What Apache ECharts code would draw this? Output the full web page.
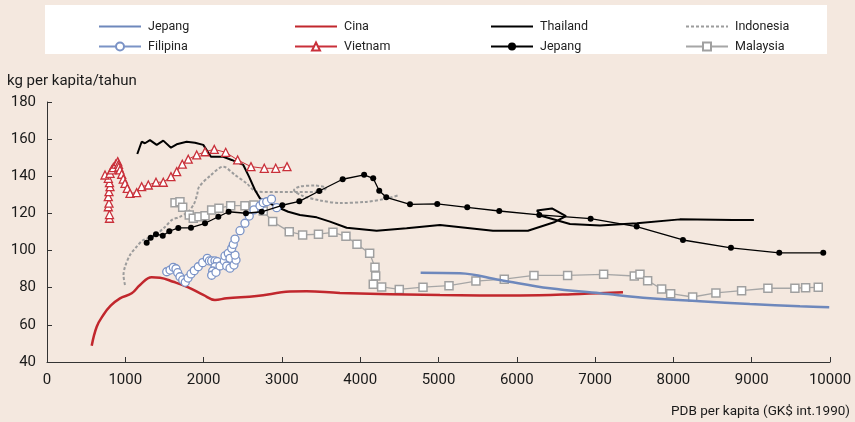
<!DOCTYPE html>
<html>
<head>
<meta charset="utf-8">
<script src="https://cdn.jsdelivr.net/npm/echarts@6/dist/echarts.min.js"></script>
<style>
  html, body { margin: 0; padding: 0; background: #F4E8DF; }
  #chart { width: 855px; height: 422px; }
</style>
</head>
<body>
<div id="chart"></div>
<script>
// Konsumsi (kg per kapita/tahun) terhadap PDB per kapita (GK$ int.1990)
const xTicks = [0, 1000, 2000, 3000, 4000, 5000, 6000, 7000, 8000, 9000, 10000];
const yTicks = [40, 60, 80, 100, 120, 140, 160, 180];

const jepang = [
  [4772, 88.1], [5274, 87.8], [5785, 84.2], [6423, 79.7], [7062, 77.0],
  [7700, 74.3], [8339, 72.7], [8977, 71.2], [9616, 70.0], [9990, 69.5]
];

const cina = [
  [571, 48.8], [635, 59.0], [719, 65.3], [813, 70.3], [932, 74.3], [1082, 77.0],
  [1188, 81.5], [1337, 85.6], [1443, 85.4], [1613, 83.2], [1804, 80.2], [1996, 76.1],
  [2145, 73.4], [2295, 74.3], [2678, 75.5], [3103, 77.9], [3316, 78.1], [3742, 77.2],
  [5019, 76.1], [6040, 75.8], [6806, 76.6], [7356, 77.5]
];

const thailand = [
  [1153, 152.0], [1209, 158.6], [1251, 157.8], [1315, 159.5], [1401, 156.9], [1485, 159.2],
  [1583, 155.4], [1656, 157.2], [1784, 158.6], [1890, 158.1], [1996, 156.9], [2094, 150.5],
  [2251, 150.5], [2359, 148.8], [2507, 146.1], [2580, 139.8], [2656, 132.6], [2720, 128.1],
  [2933, 123.6], [3081, 120.9], [3231, 119.2], [3444, 117.9], [3614, 115.6], [3827, 112.3],
  [4210, 110.7], [4593, 112.0], [5019, 113.8], [5695, 110.7], [6142, 110.7], [6487, 115.4],
  [6628, 118.6], [6449, 122.7], [6257, 121.6], [6321, 118.6], [6679, 114.3], [7062, 113.5],
  [7534, 114.7], [8083, 116.8], [8760, 116.5], [9028, 116.5]
];

const indonesia = [
  [996, 81.5], [977, 86.8], [996, 91.3], [1060, 97.6], [1145, 102.1], [1230, 105.7],
  [1357, 107.5], [1507, 112.7], [1596, 116.5], [1698, 118.2], [1801, 120.8], [1877, 125.1],
  [1916, 129.9], [1941, 134.2], [2082, 140.2], [2251, 145.2], [2401, 140.7], [2550, 136.2],
  [2678, 131.7], [3103, 131.5], [3512, 131.8], [3563, 133.7], [3422, 135.0], [3231, 134.5],
  [3154, 132.6], [3269, 129.4], [3486, 127.0], [3742, 125.6], [4061, 126.2], [4316, 127.8],
  [4482, 129.7]
];

const malaysia = [
  [1635, 125.8], [1698, 126.3], [1733, 123.3], [1817, 119.2], [1868, 117.4], [1941, 118.2],
  [2018, 118.8], [2103, 121.9], [2196, 122.8], [2346, 124.2], [2528, 124.2], [2643, 124.5],
  [2762, 121.3], [2882, 115.6], [3094, 110.2], [3265, 108.4], [3467, 108.8], [3652, 109.8],
  [3818, 107.7], [3959, 103.4], [4121, 98.5], [4189, 91.0], [4198, 86.3], [4167, 81.8],
  [4274, 80.4], [4499, 79.1], [4802, 80.3], [5134, 81.1], [5478, 83.6], [5840, 84.6],
  [6219, 86.6], [6649, 86.6], [7109, 87.2], [7500, 86.3], [7573, 87.2], [7671, 83.8],
  [7850, 79.3], [7965, 76.8], [8246, 75.0], [8543, 77.2], [8871, 78.4], [9207, 79.7],
  [9552, 79.7], [9689, 80.0], [9850, 80.2]
];

const filipina = [
  [1529, 88.6], [1571, 89.5], [1613, 91.0], [1647, 90.2], [1669, 88.1], [1698, 85.9],
  [1733, 84.2], [1766, 82.9], [1801, 85.2], [1839, 87.4], [1881, 89.2], [1932, 91.3],
  [1988, 93.5], [2047, 95.8], [2073, 94.4], [2103, 94.4], [2145, 94.5], [2175, 94.0],
  [2145, 91.3], [2116, 89.0], [2103, 86.7], [2158, 88.3], [2209, 91.7], [2264, 94.4],
  [2273, 97.1], [2315, 98.5], [2337, 95.8], [2295, 91.7], [2337, 90.5], [2388, 92.2],
  [2414, 94.9], [2401, 97.6], [2359, 101.2], [2379, 103.3], [2401, 106.2], [2465, 110.7],
  [2528, 114.7], [2583, 118.6], [2643, 121.9], [2720, 124.1], [2762, 125.8], [2806, 126.3],
  [2867, 127.7], [2933, 123.1]
];

const vietnam = [
  [798, 117.4], [798, 119.4], [783, 123.6], [792, 125.5], [783, 129.0], [792, 131.7],
  [805, 134.4], [798, 136.6], [783, 138.9], [741, 140.7], [805, 141.6], [826, 143.4],
  [847, 144.7], [877, 146.5], [903, 147.9], [913, 146.4], [917, 145.0], [932, 143.4],
  [954, 141.1], [974, 138.5], [996, 136.2], [1025, 133.5], [1060, 130.8], [1145, 131.2],
  [1209, 134.4], [1294, 135.3], [1392, 136.8], [1485, 136.8], [1583, 139.8], [1656, 142.5],
  [1728, 146.5], [1804, 149.2], [1912, 151.5], [2018, 153.2], [2136, 154.5], [2282, 152.9],
  [2435, 148.8], [2605, 145.2], [2775, 144.3], [2921, 144.3], [3065, 145.2]
];

const jepangTitik = [
  [1273, 104.2], [1324, 106.9], [1392, 108.8], [1478, 108.0], [1562, 110.4], [1677, 112.2],
  [1839, 112.3], [2018, 114.7], [2188, 118.2], [2320, 120.9], [2541, 120.1], [2742, 120.9],
  [3005, 124.4], [3222, 126.5], [3477, 132.1], [3776, 138.4], [4050, 140.8], [4166, 138.9],
  [4243, 132.2], [4333, 128.7], [4636, 124.9], [4984, 125.1], [5367, 123.3], [5776, 121.3],
  [6287, 119.2], [6943, 117.2], [7531, 112.9], [8122, 105.7], [8735, 101.5], [9352, 98.8],
  [9914, 98.8]
];

const FONT = 'Roboto, "Noto Sans", sans-serif';
const SECOND_JP = 'Jepang-2';

// One legend block per entry, laid out as a 4 x 2 grid inside the white box
const legendCols = [93, 289, 485, 680];
const legendRows = [15, 35];
const legendEntries = [
  ['Jepang', 0, 0, false], ['Cina', 1, 0, false], ['Thailand', 2, 0, false], ['Indonesia', 3, 0, false],
  ['Filipina', 0, 1, true], ['Vietnam', 1, 1, true], [SECOND_JP, 2, 1, true], ['Malaysia', 3, 1, true]
];
const legends = legendEntries.map(([name, c, r, marked]) => {
  const lg = {
    data: [name],
    left: legendCols[c],
    top: legendRows[r],
    itemWidth: 42,
    itemHeight: 10,
    selectedMode: false,
    formatter: n => (n === SECOND_JP ? 'Jepang' : n),
    textStyle: { fontFamily: FONT, fontSize: 12.5, color: '#222', padding: [0, 0, 0, 2] }
  };
  // line-only entries: hide the marker, keep the stroke
  if (!marked) lg.itemStyle = { opacity: 0 };
  return lg;
});

const plainLabel = v => String(v);

const chart = echarts.init(document.getElementById('chart'), null, { renderer: 'canvas' });
chart.setOption({
  backgroundColor: '#F4E8DF',
  animation: false,
  legend: legends,
  graphic: [
    { type: 'rect', z: -10, shape: { x: 45, y: 5, width: 782, height: 49 }, style: { fill: '#ffffff' } },
    { type: 'text', left: 7, top: 74, style: { text: 'kg per kapita/tahun', font: '15px ' + FONT, fill: '#1a1a1a' } },
    { type: 'text', right: 5, top: 405, style: { text: 'PDB per kapita (GK$ int.1990)', font: '13.5px ' + FONT, fill: '#1a1a1a' } }
  ],
  grid: { left: 47, right: 25, top: 102, bottom: 60, outerBoundsMode: 'none' },
  xAxis: {
    type: 'value', min: xTicks[0], max: xTicks[xTicks.length - 1], interval: 1000,
    splitLine: { show: false },
    axisLine: { lineStyle: { color: '#333', width: 1 } },
    axisTick: { inside: true, length: 5, lineStyle: { color: '#333' } },
    axisLabel: { margin: 11, fontFamily: FONT, fontSize: 15, color: '#1a1a1a', formatter: plainLabel }
  },
  yAxis: {
    type: 'value', min: yTicks[0], max: yTicks[yTicks.length - 1], interval: 20,
    splitLine: { show: false },
    axisLine: { show: true, lineStyle: { color: '#333', width: 1 } },
    axisTick: { show: true, inside: true, length: 5, lineStyle: { color: '#333' } },
    axisLabel: { margin: 11, fontFamily: FONT, fontSize: 15, color: '#1a1a1a', formatter: plainLabel }
  },
  series: [
    {
      name: 'Indonesia', type: 'line', data: indonesia, symbol: 'none', smooth: 0.3, z: 2,
      itemStyle: { color: '#9C9C9C' },
      lineStyle: { color: '#9C9C9C', width: 2, type: [3, 2] }
    },
    {
      name: 'Malaysia', type: 'line', data: malaysia, symbol: 'rect', symbolSize: 8, z: 3,
      lineStyle: { color: '#A6A6A6', width: 1.3 },
      itemStyle: { color: '#ffffff', borderColor: '#A0A0A0', borderWidth: 1.5 }
    },
    {
      name: 'Cina', type: 'line', data: cina, symbol: 'none', smooth: 0.4, z: 4,
      itemStyle: { color: '#C1272D' },
      lineStyle: { color: '#C1272D', width: 2.5 }
    },
    {
      name: 'Jepang', type: 'line', data: jepang, symbol: 'none', smooth: 0.4, z: 4,
      itemStyle: { color: '#6E88BC' },
      lineStyle: { color: '#6E88BC', width: 2.5 }
    },
    {
      name: 'Thailand', type: 'line', data: thailand, symbol: 'none', z: 5,
      itemStyle: { color: '#000000' },
      lineStyle: { color: '#000000', width: 2 }
    },
    {
      name: 'Vietnam', type: 'line', data: vietnam, symbol: 'triangle', symbolSize: 8, z: 6,
      lineStyle: { color: '#C9303A', width: 1 },
      itemStyle: { color: '#ffffff', borderColor: '#C9303A', borderWidth: 1.3 }
    },
    {
      name: 'Filipina', type: 'line', data: filipina, symbol: 'circle', symbolSize: 8, z: 6,
      lineStyle: { color: '#7B93C6', width: 1 },
      itemStyle: { color: '#ffffff', borderColor: '#7B93C6', borderWidth: 1.3 }
    },
    {
      name: SECOND_JP, type: 'line', data: jepangTitik, symbol: 'circle', symbolSize: 6, z: 7,
      lineStyle: { color: '#000000', width: 1.3 },
      itemStyle: { color: '#000000' }
    }
  ]
});
</script>
</body>
</html>
